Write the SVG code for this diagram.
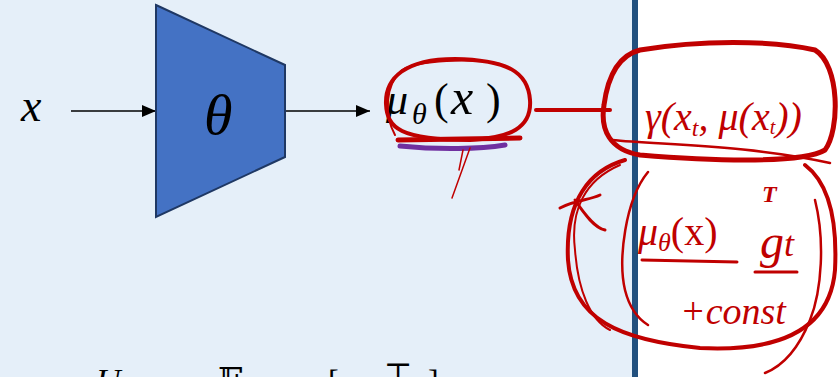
<svg xmlns="http://www.w3.org/2000/svg" width="840" height="377" viewBox="0 0 840 377">
<defs>
<style>
.math{font-family:"Liberation Serif","DejaVu Serif",serif;font-style:italic;fill:#000}
.up{font-style:normal}
.conn{stroke:#000;stroke-width:1.5;fill:none}
.ink{stroke:#C00000;fill:none;stroke-linecap:round;stroke-linejoin:round}
.hand{font-family:"Liberation Serif","DejaVu Serif",serif;font-style:italic;fill:#C00000}
</style>
<marker id="arr" markerWidth="14" markerHeight="12" refX="14" refY="6" orient="auto" markerUnits="userSpaceOnUse">
<path d="M0,0 L14,6 L0,12 Z" fill="#000"/>
</marker>
</defs>
<rect x="0" y="0" width="840" height="377" fill="#fff"/>
<rect x="0" y="0" width="633" height="377" fill="#E5EFF9"/>
<rect x="632" y="0" width="6" height="377" fill="#22507E"/>

<g id="connectors">
<line class="conn" x1="71" y1="111" x2="156" y2="111" marker-end="url(#arr)"/>
<line class="conn" x1="285" y1="111" x2="370" y2="111" marker-end="url(#arr)"/>
</g>

<g id="input">
<text class="math" x="21" y="121" font-size="46">x</text>
</g>

<g id="encoder">
<polygon points="156,5 285,65 285,157 156,217" fill="#4472C4" stroke="#1F3864" stroke-width="2"/>
<text class="math" x="204" y="134" font-size="58">θ</text>
</g>

<g id="output">
<text class="math" y="114" font-size="44"><tspan x="386">μ</tspan><tspan x="412" y="124" font-size="30">θ</tspan><tspan x="434" y="114" class="up">(</tspan><tspan x="451" font-size="50">x</tspan><tspan x="486" class="up">)</tspan></text>
</g>

<g id="bottom-text">
<text class="math" x="8" y="392" font-size="32">are</text>
<text class="math" x="96" y="392" font-size="34">U</text>
<text class="math up" x="218" y="392" font-size="34">𝔼</text>
<text class="math up" x="328" y="392" font-size="32">[</text>
<text class="math up" x="384" y="384" font-size="30">⊤</text>
<text class="math up" x="428" y="392" font-size="32">]</text>
</g>

<g id="annotations">
<!-- loop around output -->
<path class="ink" stroke-width="4" d="M470 140 C510 138 532 128 530 100 C528 72 508 60 455 59 C405 59 385 78 386 104 C387 128 400 140 470 140"/>
<path class="ink" stroke-width="2" d="M395 135 C384 115 385 85 402 70 C420 60 470 58 500 64"/>
<path class="ink" stroke-width="5" d="M398 140 L520 138"/>
<path d="M400 146 C440 150 480 149 505 145" stroke="#7030A0" stroke-width="5" fill="none" stroke-linecap="round"/>
<path class="ink" stroke-width="1.5" d="M470 148 L452 198 M463 150 L459 170"/>
<!-- connector ink -->
<path class="ink" stroke-width="4" d="M536 110 L610 110"/>
<!-- upper loop -->
<path class="ink" stroke-width="5" d="M640 50 C700 40 770 40 815 50 C840 65 840 130 825 150 C800 165 700 160 640 155 C610 150 600 130 604 105 C608 75 620 55 640 50"/>
<path class="ink" stroke-width="2.5" d="M612 140 C660 145 750 145 830 163"/>
<text class="hand" x="645" y="130" font-size="40">γ(x<tspan font-size="24" dy="6">t</tspan><tspan dy="-6">, μ(x</tspan><tspan font-size="20" dy="4">t</tspan><tspan dy="-4">))</tspan></text>
<!-- lower loop -->
<path class="ink" stroke-width="4" d="M625 160 C590 170 565 200 568 260 C572 320 620 340 700 348 C780 352 830 330 835 270 C838 210 825 180 805 165"/>
<path class="ink" stroke-width="2" d="M620 165 C585 180 570 210 575 250 C578 290 590 320 610 330"/>
<path class="ink" stroke-width="2.5" d="M648 172 C625 200 618 260 625 290 C630 310 640 320 648 325"/>
<path class="ink" stroke-width="2.5" d="M815 200 C825 240 822 290 810 320 C800 345 785 365 765 373"/>
<path class="ink" stroke-width="3" d="M560 208 C575 200 590 200 600 195 M575 200 C585 215 595 228 605 230"/>
<text class="hand" x="638" y="245" font-size="40">μ<tspan font-size="26" dy="6">θ</tspan><tspan dy="-6" class="up">(x)</tspan></text>
<text class="hand up" x="762" y="202" font-size="24" font-weight="bold">T</text>
<text class="hand" x="760" y="258" font-size="48">g<tspan font-size="36" dy="-2">t</tspan></text>
<path class="ink" stroke-width="3" d="M642 260 L737 262 M755 272 L797 272"/>
<text class="hand" x="680" y="324" font-size="38">+const</text>
</g>
</svg>
